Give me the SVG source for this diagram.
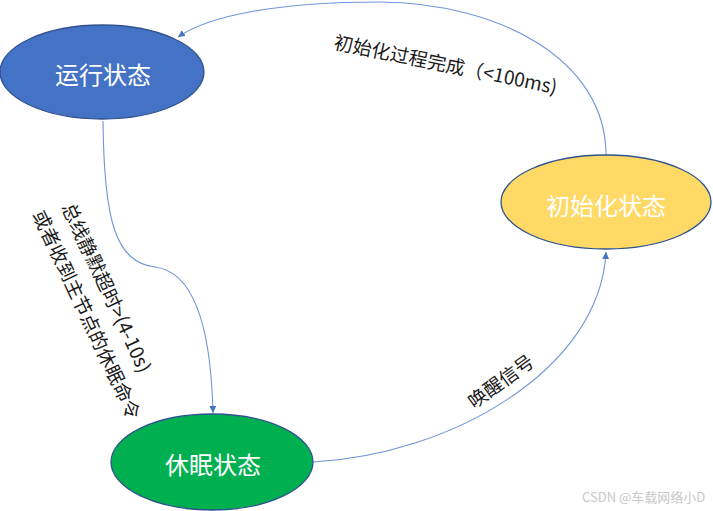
<svg xmlns="http://www.w3.org/2000/svg" width="713" height="511" viewBox="0 0 713 511">
<style>
.node{stroke:#2F528F;stroke-width:1.3}
.ntxt{font-family:"Noto Sans CJK SC","Noto Sans",sans-serif;font-size:24px;fill:#ffffff;text-anchor:middle;dominant-baseline:central}
.edge{fill:none;stroke:#6E95DA;stroke-width:1.1}
.lbl{font-family:"Noto Sans CJK SC","Noto Sans",sans-serif;font-size:19px;fill:#1a1a1a;text-anchor:middle;dominant-baseline:central}
.wm{font-family:"Noto Sans CJK SC","Noto Sans",sans-serif;font-size:13px;fill:#c8c8c8}
</style>
<defs>
<marker id="arr" viewBox="0 0 10 10" refX="10" refY="5" markerWidth="7" markerHeight="7" orient="auto" markerUnits="userSpaceOnUse">
<path d="M0,0 L10,5 L0,10 z" fill="#4472C4"/>
</marker>
</defs>
<rect width="713" height="511" fill="#ffffff"/>
<g id="connectors">
<path class="edge" d="M103,121 C104,220 115,262 155,267 C195,272 211,330 213,413" marker-end="url(#arr)"/>
<path class="edge" d="M313,462 C450,455 600,370 606,252" marker-end="url(#arr)"/>
<path class="edge" d="M606,155 C606,60 500,3 380,2 C280,2 210,15 178,37" marker-end="url(#arr)"/>
<text class="lbl" transform="translate(446,63) rotate(11.5)">初始化过程完成（&lt;100ms)</text>
<text class="lbl" transform="translate(108,287) rotate(65)">总线静默超时&gt;(4-10s)</text>
<text class="lbl" transform="translate(88,314) rotate(65)">或者收到主节点的休眠命令</text>
<text class="lbl" transform="translate(500,380) rotate(-36)">唤醒信号</text>
</g>
<g id="running">
<ellipse class="node" cx="102" cy="72" rx="102" ry="47" fill="#4472C4"/>
<text class="ntxt" x="103" y="73">运行状态</text>
</g>
<g id="init">
<ellipse class="node" cx="606" cy="202" rx="105" ry="47" fill="#FFD966"/>
<text class="ntxt" x="606" y="204">初始化状态</text>
</g>
<g id="sleep">
<ellipse class="node" cx="212" cy="462" rx="101" ry="48" fill="#00B050"/>
<text class="ntxt" x="213" y="463">休眠状态</text>
</g>
<text class="wm" x="582" y="502">CSDN @车载网络小D</text>
</svg>
